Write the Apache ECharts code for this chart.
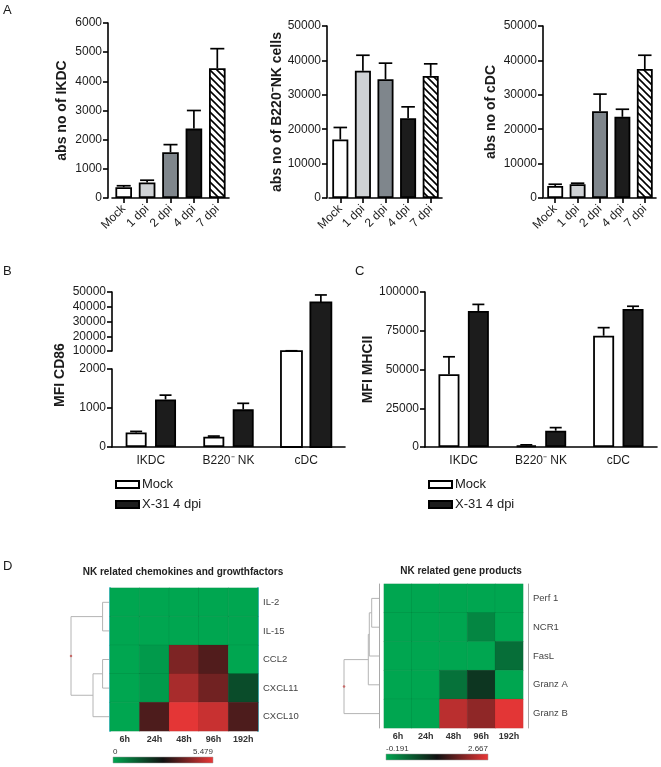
<!DOCTYPE html>
<html><head><meta charset="utf-8">
<script src="https://cdn.jsdelivr.net/npm/echarts@6/dist/echarts.min.js"></script>
<style>html,body{margin:0;padding:0;background:#fff}#c{width:661px;height:767px}</style>
</head><body><div id="c"></div><script>
// ---------- DATA ----------
const timeCats = ['Mock', '1 dpi', '2 dpi', '4 dpi', '7 dpi'];
const ikdcVals = [370, 530, 1570, 2380, 4450];
const ikdcErr  = [420, 610, 1830, 3000, 5120];
const nkVals   = [17000, 37000, 34500, 23200, 35500];
const nkErr    = [20500, 41500, 39200, 26500, 39000];
const cdcVals  = [3500, 4000, 25200, 23600, 37500];
const cdcErr   = [4000, 4300, 30200, 25800, 41500];

const cellCats   = ['IKDC', 'B220\u207B NK', 'cDC'];
const cd86Mock   = [370, 265, 9900];
const cd86MockEr = [400, 280, 10150];
const cd86X31    = [1220, 965, 43000];
const cd86X31Er  = [1330, 1120, 48000];
const mhcMock    = [47000, 1000, 71800];
const mhcMockEr  = [58200, 1400, 77000];
const mhcX31     = [87700, 10500, 89000];
const mhcX31Er   = [92000, 12500, 90800];

const timePoints = ['6h', '24h', '48h', '96h', '192h'];
const chemoGenes = ['IL-2', 'IL-15', 'CCL2', 'CXCL11', 'CXCL10'];
const chemoVals = [
  [0, 0, 0, 0, 0],
  [0, 0, 0, 0, 0],
  [0, 0.22, 4.1, 3.55, 0],
  [0, 0.2, 4.65, 3.95, 1.65],
  [0, 3.5, 5.4, 5.05, 3.5]
];
const chemoRange = [0, 5.479];
const geneProducts = ['Perf 1', 'NCR1', 'FasL', 'Granz A', 'Granz B'];
const geneVals = [
  [-0.19, -0.19, -0.19, -0.19, -0.19],
  [-0.19, -0.19, -0.19, 0.12, -0.19],
  [-0.19, -0.19, -0.19, -0.19, 0.35],
  [-0.19, -0.19, 0.31, 0.88, -0.19],
  [-0.19, -0.19, 2.35, 2.07, 2.62]
];
const geneRange = [-0.191, 2.667];
// dendrogram linkage: [nodeA, nodeB, height]; leaves 0..4, merges numbered from 5
const chemoLinkage = [[0, 1, 6.3], [2, 3, 6.3], [6, 4, 15.7], [5, 7, 37.3]];
const geneLinkage  = [[0, 1, 7.3], [5, 2, 9.7], [6, 3, 10.7], [7, 4, 35]];

// ---------- STYLE / LAYOUT ----------
const FONT = '"Liberation Sans", Arial, sans-serif';
const NARROW = '"Liberation Sans Narrow", "Arial Narrow", "Liberation Sans", sans-serif';
const TXT = '#1a1a1a';
const plain = v => String(v);
function hatch() {
  const s = 7, c = document.createElement('canvas'); c.width = c.height = s;
  const g = c.getContext('2d'); g.fillStyle = '#fff'; g.fillRect(0, 0, s, s);
  g.strokeStyle = '#000'; g.lineWidth = 1.6; g.beginPath();
  g.moveTo(-1, -1); g.lineTo(s + 1, s + 1);
  g.moveTo(-1, s - 1); g.lineTo(1, s + 1);
  g.moveTo(s - 1, -1); g.lineTo(s + 1, 1);
  g.stroke(); return c;
}
const timeFills = ['#ffffff', '#cfd2d5', '#7f868c', '#1c1c1c', { image: hatch(), repeat: 'repeat' }];
const A = [
  { left: 112, top: 23, width: 117, height: 175, off: 4, max: 6000, iv: 1000, name: 'abs no of IKDC', gap: 39 },
  { left: 329, top: 26, width: 113, height: 172, off: 2, max: 50000, iv: 10000, name: 'abs no of B220\u207BNK cells', gap: 43 },
  { left: 544, top: 26, width: 112, height: 172, off: 1, max: 50000, iv: 10000, name: 'abs no of cDC', gap: 45 }
];
const aVals = [ikdcVals, nkVals, cdcVals], aErr = [ikdcErr, nkErr, cdcErr];
const B_LOW = { left: 112, top: 369, width: 233, height: 78 };
const B_HIGH = { left: 112, top: 292, width: 233, height: 59 };
const B_LOW_MAX = 2000;
const C_G = { left: 425, top: 292, width: 232, height: 155 };
const HL = { left: 110, top: 588, width: 148, height: 143 };
const HR = { left: 384, top: 584, width: 139, height: 144 };
const DL = { left: 71, top: 588, width: 38, height: 143 };
const DR = { left: 344, top: 584, width: 35, height: 144 };
const BW = 21, BGAP = 0.4, OFF = (BW + BW * BGAP) / 2;
const heatColors = ['#00a650', '#111111', '#ea3737'];

const grids = [], xAxes = [], yAxes = [], series = [];
function axisLineStyle() { return { show: true, lineStyle: { color: '#000', width: 1.6 } }; }
function addGrid(g) { grids.push(Object.assign({ containLabel: false }, g)); return grids.length - 1; }
function addX(ax) { xAxes.push(ax); return xAxes.length - 1; }
function addY(ax) { yAxes.push(ax); return yAxes.length - 1; }

function errSeries(xi, yi, bases, tops, offset, cap, keep) {
  const data = tops.map((t, i) => [i, bases[i], t]).filter(d => keep ? keep(d[1]) : true);
  return {
    type: 'custom', xAxisIndex: xi, yAxisIndex: yi, z: 6, silent: true, data,
    renderItem(p, api) {
      const b = api.coord([api.value(0), api.value(1)]);
      const t = api.coord([api.value(0), api.value(2)]);
      const band = api.size([1, 0])[0];
      const cx = b[0] + offset;
      const hw = (typeof cap === 'function' ? cap(band) : cap) / 2;
      const st = { stroke: '#000', lineWidth: 1.7 };
      return { type: 'group', children: [
        { type: 'line', shape: { x1: cx, y1: b[1], x2: cx, y2: t[1] }, style: st },
        { type: 'line', shape: { x1: cx - hw, y1: t[1], x2: cx + hw, y2: t[1] }, style: st }
      ] };
    }
  };
}
const valTick = { show: true, length: 5, lineStyle: { width: 1.6, color: '#000' } };
const valLabel = { fontSize: 12, fontFamily: FONT, color: TXT, margin: 6, formatter: plain };

// ---- Panel A ----
A.forEach((g, k) => {
  const gi = addGrid({ left: g.left, top: g.top, width: g.width, height: g.height });
  const xi = addX({ type: 'category', gridIndex: gi, data: timeCats, axisLine: axisLineStyle(),
    axisTick: { show: true, alignWithLabel: true, length: 5, lineStyle: { width: 1.6, color: '#000' } },
    axisLabel: { rotate: 45, fontSize: 12, fontFamily: FONT, color: TXT, margin: 9, interval: 0 } });
  const yi = addY({ type: 'value', gridIndex: gi, min: 0, max: g.max, interval: g.iv, offset: g.off,
    axisLine: axisLineStyle(), axisTick: valTick, splitLine: { show: false }, axisLabel: valLabel,
    name: g.name, nameLocation: 'middle', nameGap: g.gap,
    nameTextStyle: { fontSize: 14, fontWeight: 'bold', fontFamily: FONT, color: TXT } });
  series.push({ type: 'bar', xAxisIndex: xi, yAxisIndex: yi, barWidth: '71%',
    data: aVals[k].map((v, i) => ({ value: v, itemStyle: { color: timeFills[i] } })),
    itemStyle: { borderColor: '#000', borderWidth: 1.8 } });
  series.push(errSeries(xi, yi, aVals[k], aErr[k], 0, band => band * 0.6));
});

// ---- Panel B (broken axis) ----
const giBL = addGrid(B_LOW), giBH = addGrid(B_HIGH);
const xBL = addX({ type: 'category', gridIndex: giBL, data: cellCats, axisLine: axisLineStyle(), axisTick: { show: false },
  axisLabel: { fontSize: 12, fontFamily: FONT, color: TXT, margin: 8 } });
const yBL = addY({ type: 'value', gridIndex: giBL, min: 0, max: B_LOW_MAX, interval: 1000, axisLine: axisLineStyle(),
  axisTick: valTick, splitLine: { show: false }, axisLabel: valLabel });
const xBH = addX({ type: 'category', gridIndex: giBH, data: cellCats, show: false });
const yBH = addY({ type: 'value', gridIndex: giBH, min: 10000, max: 50000, interval: 10000, axisLine: axisLineStyle(),
  axisTick: valTick, splitLine: { show: false }, axisLabel: valLabel });
const lowOnly = v => v <= B_LOW_MAX, highOnly = v => v > B_LOW_MAX;
series.push({ type: 'bar', name: 'Mock', xAxisIndex: xBL, yAxisIndex: yBL, barWidth: BW, barGap: (BGAP * 100) + '%',
  data: cd86Mock.map(v => lowOnly(v) ? v : '-'), itemStyle: { color: '#fff', borderColor: '#000', borderWidth: 1.8 } });
series.push({ type: 'bar', name: 'X-31 4 dpi', xAxisIndex: xBL, yAxisIndex: yBL, barWidth: BW,
  data: cd86X31.map(v => lowOnly(v) ? v : '-'), itemStyle: { color: '#1c1c1c', borderColor: '#000', borderWidth: 1.8 } });
function highBars(vals, offset, fill) {
  const baseY = B_LOW.top + B_LOW.height;
  return { type: 'custom', xAxisIndex: xBH, yAxisIndex: yBH, z: 3, silent: true,
    data: vals.map((v, i) => [i, v]).filter(d => highOnly(d[1])),
    renderItem(p, api) {
      const t = api.coord([api.value(0), api.value(1)]);
      const cx = t[0] + offset;
      return { type: 'rect', shape: { x: cx - BW / 2, y: t[1], width: BW, height: baseY - t[1] },
        style: { fill, stroke: '#000', lineWidth: 1.8 } };
    } };
}
series.push(highBars(cd86Mock, -OFF, '#fff'));
series.push(highBars(cd86X31, OFF, '#1c1c1c'));
series.push(errSeries(xBL, yBL, cd86Mock, cd86MockEr, -OFF, 12, lowOnly));
series.push(errSeries(xBL, yBL, cd86X31, cd86X31Er, OFF, 12, lowOnly));
series.push(errSeries(xBH, yBH, cd86Mock, cd86MockEr, -OFF, 12, highOnly));
series.push(errSeries(xBH, yBH, cd86X31, cd86X31Er, OFF, 12, highOnly));

// ---- Panel C ----
const giC = addGrid(C_G);
const xC = addX({ type: 'category', gridIndex: giC, data: cellCats, axisLine: axisLineStyle(), axisTick: { show: false },
  axisLabel: { fontSize: 12, fontFamily: FONT, color: TXT, margin: 8 } });
const yC = addY({ type: 'value', gridIndex: giC, min: 0, max: 100000, interval: 25000, axisLine: axisLineStyle(),
  axisTick: valTick, splitLine: { show: false }, axisLabel: valLabel,
  name: 'MFI MHCII', nameLocation: 'middle', nameGap: 45,
  nameTextStyle: { fontSize: 14, fontWeight: 'bold', fontFamily: FONT, color: TXT } });
series.push({ type: 'bar', name: 'Mock', xAxisIndex: xC, yAxisIndex: yC, barWidth: BW, barGap: (BGAP * 100) + '%',
  data: mhcMock, itemStyle: { color: '#fff', borderColor: '#000', borderWidth: 1.8 } });
series.push({ type: 'bar', name: 'X-31 4 dpi', xAxisIndex: xC, yAxisIndex: yC, barWidth: BW,
  data: mhcX31, itemStyle: { color: '#1c1c1c', borderColor: '#000', borderWidth: 1.8 } });
series.push(errSeries(xC, yC, mhcMock, mhcMockEr, -OFF, 12));
series.push(errSeries(xC, yC, mhcX31, mhcX31Er, OFF, 12));

// ---- Panel D heatmaps ----
function heatPanel(G, rows, vals, edgeColor, edgeOff, labelMargin) {
  const gi = addGrid(G);
  const xi = addX({ type: 'category', gridIndex: gi, data: timePoints, axisLine: { show: false }, axisTick: { show: false },
    axisLabel: { fontSize: 9, fontWeight: 'bold', fontFamily: FONT, color: '#333', margin: 4 } });
  addY({ type: 'category', gridIndex: gi, data: rows, inverse: true, position: 'left', offset: edgeOff,
    axisLine: { show: true, lineStyle: { color: edgeColor, width: edgeOff ? 1 : 2 } }, axisTick: { show: false }, axisLabel: { show: false } });
  const yi = addY({ type: 'category', gridIndex: gi, data: rows, inverse: true, position: 'right', offset: edgeOff,
    axisLine: { show: true, lineStyle: { color: edgeColor, width: edgeOff ? 1 : 2 } }, axisTick: { show: false },
    axisLabel: { fontSize: 9.5, fontFamily: NARROW, color: '#444', margin: labelMargin } });
  const data = [];
  vals.forEach((r, ri) => r.forEach((v, ci) => data.push([ci, ri, v])));
  series.push({ type: 'heatmap', xAxisIndex: xi, yAxisIndex: yi, data,
    itemStyle: { borderColor: 'rgba(0,0,0,0.10)', borderWidth: 0.6 } });
  return series.length - 1;
}
const sHL = heatPanel(HL, chemoGenes, chemoVals, '#5cc8da', 0, 5);
const sHR = heatPanel(HR, geneProducts, geneVals, '#a9a9a9', 5, 5);

function dendro(G, linkage, n) {
  const gi = addGrid(G);
  const maxH = Math.max(...linkage.map(l => l[2]));
  const xi = addX({ type: 'value', gridIndex: gi, min: 0, max: maxH, inverse: true, show: false });
  const yi = addY({ type: 'value', gridIndex: gi, min: 0, max: n, inverse: true, show: false });
  const pos = [];
  for (let i = 0; i < n; i++) pos.push([0, i + 0.5]);
  const segs = [];
  linkage.forEach(([a, b, h]) => {
    const pa = pos[a], pb = pos[b];
    segs.push([pa[0], pa[1], pb[0], pb[1], h]);
    pos.push([h, (pa[1] + pb[1]) / 2]);
  });
  series.push({ type: 'custom', xAxisIndex: xi, yAxisIndex: yi, silent: true, data: segs,
    renderItem(p, api) {
      const h = api.value(4);
      const pts = [api.coord([api.value(0), api.value(1)]), api.coord([h, api.value(1)]),
                   api.coord([h, api.value(3)]), api.coord([api.value(2), api.value(3)])];
      return { type: 'polyline', shape: { points: pts }, style: { stroke: '#b4b4b4', lineWidth: 1, fill: null } };
    } });
  const root = pos[pos.length - 1];
  series.push({ type: 'scatter', xAxisIndex: xi, yAxisIndex: yi, silent: true, data: [root],
    symbolSize: 2.5, itemStyle: { color: '#c0504d' } });
}
dendro(DL, chemoLinkage, chemoGenes.length);
dendro(DR, geneLinkage, geneProducts.length);

// ---------- GRAPHICS (labels, colour bars) ----------
const graphic = [
  { type: 'text', x: 3, y: 4, style: { text: 'A', font: '13px ' + FONT, fill: TXT } },
  { type: 'text', x: 3, y: 265, style: { text: 'B', font: '13px ' + FONT, fill: TXT } },
  { type: 'text', x: 355, y: 265, style: { text: 'C', font: '13px ' + FONT, fill: TXT } },
  { type: 'text', x: 3, y: 560, style: { text: 'D', font: '13px ' + FONT, fill: TXT } },
  { type: 'text', x: 60, y: 375, rotation: Math.PI / 2, style: { text: 'MFI CD86', font: 'bold 14px ' + FONT, fill: TXT, align: 'center', verticalAlign: 'middle' } },
  { type: 'text', x: 183, y: 572, style: { text: 'NK related chemokines and growthfactors', font: 'bold 10px ' + FONT, fill: '#222', align: 'center', verticalAlign: 'middle' } },
  { type: 'text', x: 461, y: 571, style: { text: 'NK related gene products', font: 'bold 10px ' + FONT, fill: '#222', align: 'center', verticalAlign: 'middle' } }
];
function colorBar(x, y, w, h, range) {
  graphic.push({ type: 'rect', shape: { x, y, width: w, height: h }, style: { stroke: '#999', lineWidth: 0.5,
    fill: new echarts.graphic.LinearGradient(0, 0, 1, 0, heatColors.map((c, i) => ({ offset: i / (heatColors.length - 1), color: c }))) } });
  graphic.push({ type: 'text', x, y: y - 1, style: { text: String(range[0]), font: '8px ' + NARROW, fill: '#333', verticalAlign: 'bottom' } });
  graphic.push({ type: 'text', x: x + w, y: y - 1, style: { text: String(range[1]), font: '8px ' + NARROW, fill: '#333', align: 'right', verticalAlign: 'bottom' } });
}
colorBar(113, 757, 100, 6, chemoRange);
colorBar(386, 754, 102, 6, geneRange);

const chart = echarts.init(document.getElementById('c'), null, { renderer: 'canvas' });
chart.setOption({
  animation: false,
  backgroundColor: '#fff',
  textStyle: { fontFamily: FONT },
  grid: grids, xAxis: xAxes, yAxis: yAxes, series, graphic,
  legend: [
    { left: 110, top: 473, orient: 'vertical', itemWidth: 23, itemHeight: 7, itemGap: 7, icon: 'rect',
      data: ['Mock', 'X-31 4 dpi'], textStyle: { fontSize: 13, fontFamily: FONT, color: TXT, padding: [0, 0, 0, -2] }, selectedMode: false },
    { left: 423, top: 473, orient: 'vertical', itemWidth: 23, itemHeight: 7, itemGap: 7, icon: 'rect',
      data: ['Mock', 'X-31 4 dpi'], textStyle: { fontSize: 13, fontFamily: FONT, color: TXT, padding: [0, 0, 0, -2] }, selectedMode: false }
  ],
  visualMap: [
    { type: 'continuous', show: false, seriesIndex: sHL, min: chemoRange[0], max: chemoRange[1], inRange: { color: heatColors } },
    { type: 'continuous', show: false, seriesIndex: sHR, min: geneRange[0], max: geneRange[1], inRange: { color: heatColors } }
  ]
});
</script></body></html>
